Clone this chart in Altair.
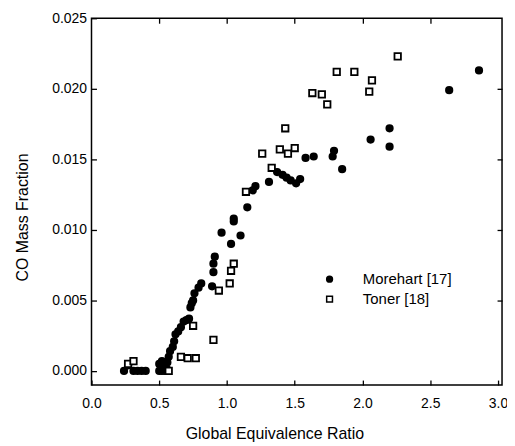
import altair as alt
import pandas as pd

# Morehart [17] (filled circles)
m_x = [0.24, 0.27, 0.31, 0.34, 0.37, 0.40, 0.50, 0.52, 0.54, 0.56, 0.50, 0.52, 0.54, 0.56,
       0.57, 0.58, 0.60, 0.61, 0.62, 0.64, 0.66, 0.68, 0.70, 0.72, 0.73, 0.74, 0.75, 0.76,
       0.79, 0.81, 0.89, 0.90, 0.90, 0.91, 0.96, 1.03, 1.05, 1.05, 1.10, 1.15, 1.19, 1.21,
       1.31, 1.37, 1.41, 1.44, 1.47, 1.51, 1.54, 1.58, 1.64, 1.78, 1.79, 1.85, 2.06, 2.20,
       2.20, 2.64, 2.86]
m_y = [0.0000, 0.0004, 0.0000, 0.0000, 0.0000, 0.0000, 0.0000, 0.0000, 0.0000, 0.0001,
       0.0005, 0.0007, 0.0004, 0.0006, 0.0010, 0.0014, 0.0017, 0.0021, 0.0026, 0.0028,
       0.0031, 0.0035, 0.0036, 0.0037, 0.0045, 0.0048, 0.0050, 0.0055, 0.0059, 0.0062,
       0.0060, 0.0070, 0.0076, 0.0081, 0.0098, 0.0090, 0.0106, 0.0108, 0.0096, 0.0116,
       0.0128, 0.0131, 0.0134, 0.0141, 0.0139, 0.0137, 0.0135, 0.0133, 0.0136, 0.0151,
       0.0152, 0.0152, 0.0156, 0.0143, 0.0164, 0.0172, 0.0159, 0.0199, 0.0213]

# Toner [18] (open squares)
t_x = [0.27, 0.31, 0.57, 0.66, 0.71, 0.77, 0.75, 0.90, 0.94, 1.02, 1.03, 1.05, 1.14, 1.26,
       1.33, 1.39, 1.43, 1.45, 1.50, 1.63, 1.70, 1.74, 1.81, 1.94, 2.05, 2.07, 2.26]
t_y = [0.0005, 0.0007, 0.0000, 0.0010, 0.0009, 0.0009, 0.0032, 0.0022, 0.0057, 0.0062,
       0.0071, 0.0076, 0.0127, 0.0154, 0.0144, 0.0157, 0.0172, 0.0154, 0.0158, 0.0197,
       0.0196, 0.0189, 0.0212, 0.0212, 0.0198, 0.0206, 0.0223]

series = ["Morehart [17]", "Toner [18]"]

df = pd.concat([
    pd.DataFrame({"phi": m_x, "co": m_y, "src": series[0]}),
    pd.DataFrame({"phi": t_x, "co": t_y, "src": series[1]}),
])

FONT = "Liberation Sans, Arial, sans-serif"

xs = alt.Scale(domain=[0, 3.03], nice=False, zero=False)
ys = alt.Scale(domain=[-0.001, 0.025], nice=False, zero=False)

common_axis = dict(domain=False, tickColor="black", tickWidth=1.3, tickSize=5,
                   offset=-5, grid=False, labelColor="black", labelFont=FONT,
                   labelFontSize=14, titleFont=FONT, titleColor="black",
                   titleFontWeight="normal", labelFlush=False)

x_axis = alt.Axis(values=[0, 0.5, 1.0, 1.5, 2.0, 2.5, 3.0], format=".1f",
                  labelPadding=12, title="Global Equivalence Ratio", titleFontSize=16,
                  titleX=184, titleY=59, titleBaseline="alphabetic", **common_axis)
y_axis = alt.Axis(values=[0, 0.005, 0.010, 0.015, 0.020, 0.025], format=".3f",
                  labelPadding=5, title="CO Mass Fraction", titleFontSize=16,
                  titleX=-66, titleY=200, titleAngle=-90, titleBaseline="bottom",
                  **common_axis)

leg = alt.Legend(title=None, orient="none", legendX=232, legendY=255,
                 labelFont=FONT, labelFontSize=15, labelColor="black",
                 labelOffset=26, rowPadding=4, symbolStrokeWidth=1.5,
                 symbolSize=34)

base = alt.Chart(df).mark_point(filled=True, opacity=1, strokeWidth=1.8, size=42).encode(
    x=alt.X("phi:Q", scale=xs, axis=x_axis),
    y=alt.Y("co:Q", scale=ys, axis=y_axis),
    shape=alt.Shape("src:N", scale=alt.Scale(domain=series, range=["circle", "square"]),
                    legend=leg),
    fill=alt.Fill("src:N", scale=alt.Scale(domain=series, range=["black", "white"]),
                  legend=leg),
    stroke=alt.Stroke("src:N", scale=alt.Scale(domain=series, range=["black", "black"]),
                      legend=leg),
)

top = alt.Chart(df).mark_point(opacity=0).encode(
    x=alt.X("phi:Q", scale=xs, axis=alt.Axis(orient="top", labels=False, title=None,
                                              values=[0.5, 1.0, 1.5, 2.0, 2.5],
                                              **common_axis)),
    y=alt.Y("co:Q", scale=ys, axis=alt.Axis(orient="right", labels=False, title=None,
                                             values=[0.005, 0.010, 0.015, 0.020],
                                             **common_axis)),
)

chart = alt.layer(base, top).resolve_axis(x="independent", y="independent").properties(
    width=413, height=369,
    autosize=alt.AutoSizeParams(type="none"),
    padding={"left": 84, "top": 9, "right": 5, "bottom": 58},
    background="white",
).configure_view(stroke="black", strokeWidth=1.5)

chart.save("out.html", embed_options={"renderer": "svg", "actions": False})
